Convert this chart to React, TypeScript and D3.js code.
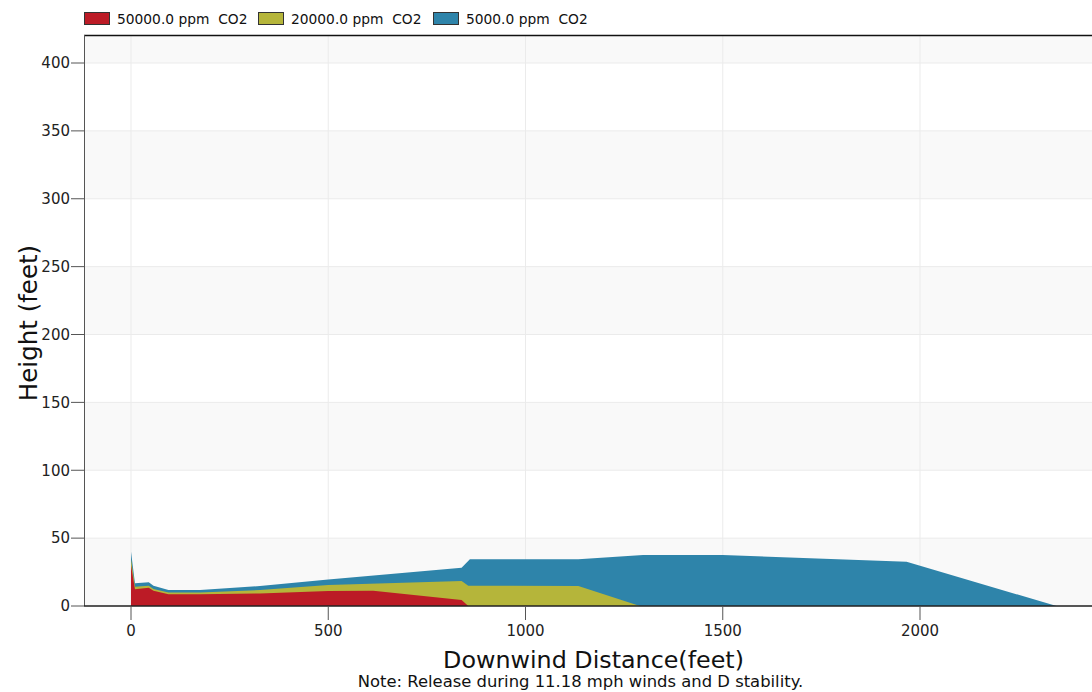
import React from "react";
import * as d3 from "d3";

// distance (feet) / height (feet) for each concentration contour
const redX = [0, 10, 45, 57, 95, 175, 327, 500, 614, 838, 855];
const redY = [30, 12.3, 13.5, 11.3, 8.6, 8.6, 9.3, 11, 11.3, 4.4, 0];
const yellowX = [0, 10, 45, 57, 95, 175, 327, 500, 838, 855, 1134, 1290];
const yellowY = [34.4, 14.2, 15, 12.5, 10, 10, 11.8, 15.5, 18.4, 15, 14.7, 0];
const blueX = [0, 10, 45, 57, 95, 175, 327, 500, 838, 859, 1134, 1298, 1500, 1966, 2346];
const blueY = [40, 16.7, 17.5, 15, 11.8, 11.8, 14.7, 19.6, 28.2, 34.4, 34.4, 37.5, 37.5, 32.6, 0];

const seriesNames = ["50000.0 ppm  CO2", "20000.0 ppm  CO2", "5000.0 ppm  CO2"];
const seriesColors = ["#bc1b26", "#b5b53a", "#2e84aa"];
const xTicks = [0, 500, 1000, 1500, 2000];
const yTicks = [0, 50, 100, 150, 200, 250, 300, 350, 400];

const W = 1092;
const H = 692;
const left = 84;
const top = 35;
const bottom = 606;
const right = 1100;
const font = "DejaVu Sans, Verdana, sans-serif";

const App = () => {
    const x = d3.scaleLinear().domain([0, 2000]).range([131, 920]);
    const y = d3.scaleLinear().domain([0, 400]).range([bottom, 63]);

    const area = d3
        .area<[number, number]>()
        .x((d) => x(d[0]))
        .y0(y(0))
        .y1((d) => y(d[1]));

    const series = [
        { xs: blueX, ys: blueY, color: seriesColors[2] },
        { xs: yellowX, ys: yellowY, color: seriesColors[1] },
        { xs: redX, ys: redY, color: seriesColors[0] },
    ];

    const bands = yTicks.map((t, i) => {
        const y0 = y(t);
        const y1 = i < yTicks.length - 1 ? y(yTicks[i + 1]) : top;
        return { y0, y1, fill: i % 2 === 0 ? "#f9f9f9" : "#ffffff" };
    });

    const legendX = [84, 258, 433];

    return (
        <svg
            width={W}
            height={H}
            style={{ position: "absolute", left: 0, top: 0, background: "#fff" }}
            fontFamily={font}
        >
            <defs>
                <clipPath id="plot">
                    <rect x={left} y={top} width={right - left} height={bottom - top} />
                </clipPath>
            </defs>
            {bands.map((b, i) => (
                <rect key={i} x={left} y={b.y1} width={right - left} height={b.y0 - b.y1} fill={b.fill} />
            ))}
            {yTicks.map((t) => (
                <line key={"gy" + t} x1={left} x2={right} y1={y(t)} y2={y(t)} stroke="#ebebeb" />
            ))}
            {xTicks.map((t) => (
                <line key={"gx" + t} x1={x(t)} x2={x(t)} y1={top} y2={bottom} stroke="#ebebeb" />
            ))}
            <g clipPath="url(#plot)">
                {series.map((s, i) => (
                    <path
                        key={i}
                        d={area(s.xs.map((v, j) => [v, s.ys[j]] as [number, number])) || ""}
                        fill={s.color}
                    />
                ))}
            </g>
            <line x1={left} x2={right} y1={top + 0.5} y2={top + 0.5} stroke="#111" strokeWidth={1.5} />
            <line x1={left + 0.5} x2={left + 0.5} y1={top} y2={bottom} stroke="#555" />
            <line x1={left} x2={right} y1={bottom} y2={bottom} stroke="#222" strokeWidth={1.5} />
            {yTicks.map((t) => (
                <g key={"ty" + t}>
                    <line x1={71} x2={left} y1={y(t)} y2={y(t)} stroke="#555" />
                    <text x={70} y={y(t)} dy="0.35em" textAnchor="end" fontSize={15} fill="#222">
                        {t}
                    </text>
                </g>
            ))}
            {xTicks.map((t) => (
                <g key={"tx" + t}>
                    <line x1={x(t)} x2={x(t)} y1={bottom} y2={620} stroke="#555" />
                    <text x={x(t)} y={636} textAnchor="middle" fontSize={15} fill="#222">
                        {t}
                    </text>
                </g>
            ))}
            <text x={593.5} y={668} textAnchor="middle" fontSize={23.8} fill="#111">
                Downwind Distance(feet)
            </text>
            <text x={580.5} y={687} textAnchor="middle" fontSize={16.4} fill="#111">
                Note: Release during 11.18 mph winds and D stability.
            </text>
            <text
                transform={`translate(37,323) rotate(-90)`}
                textAnchor="middle"
                fontSize={24.5}
                fill="#111"
            >
                Height (feet)
            </text>
            {seriesNames.map((n, i) => (
                <g key={n}>
                    <rect
                        x={legendX[i] + 0.5}
                        y={12.5}
                        width={25}
                        height={12}
                        fill={seriesColors[i]}
                        stroke="#333"
                    />
                    <text
                        x={legendX[i] + 33}
                        y={19}
                        dy="0.35em"
                        fontSize={13.8}
                        fill="#111"
                        style={{ whiteSpace: "pre" }}
                    >
                        {n}
                    </text>
                </g>
            ))}
        </svg>
    );
};

export default App;
